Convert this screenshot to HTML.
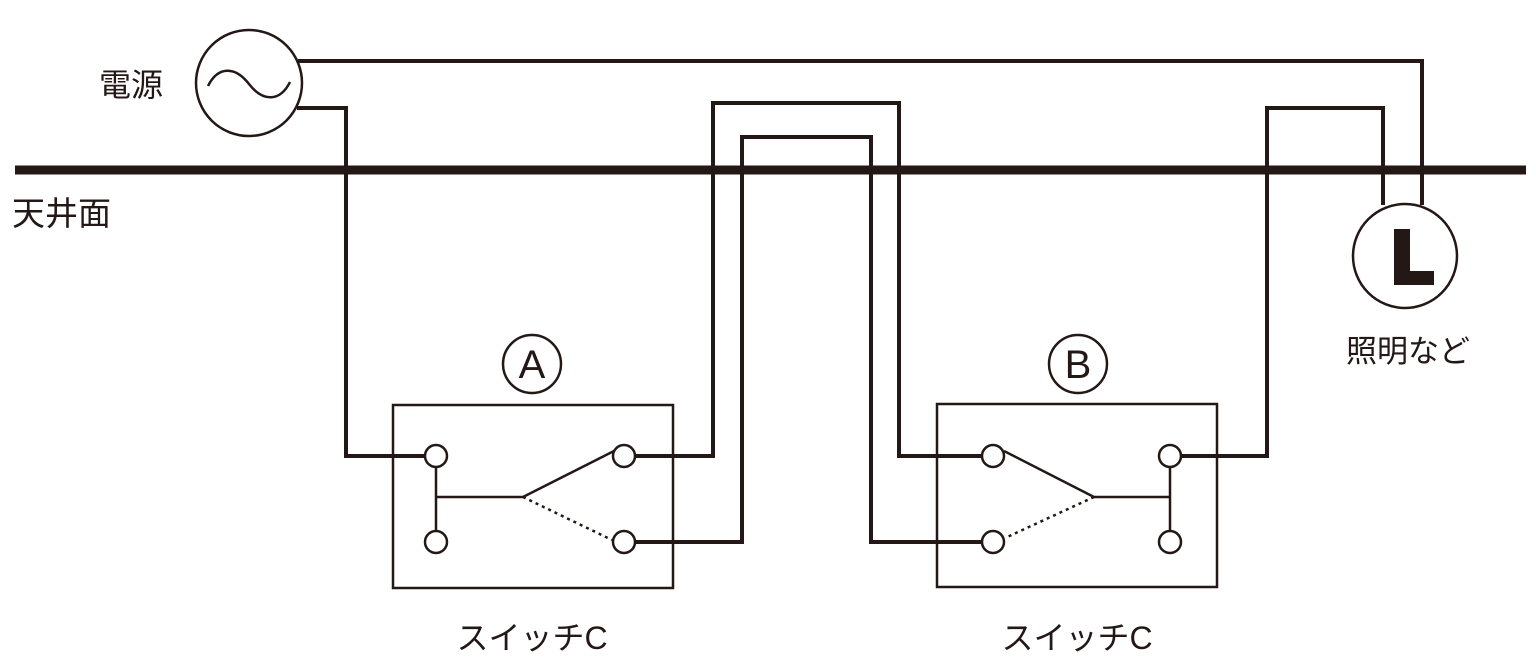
<!DOCTYPE html>
<html><head><meta charset="utf-8"><style>
html,body{margin:0;padding:0;background:#fff;}
svg{display:block}
text{font-family:"Liberation Sans","Noto Sans CJK JP",sans-serif;fill:#231815;}
</style></head><body>
<svg width="1536" height="667" viewBox="0 0 1536 667" xmlns="http://www.w3.org/2000/svg">
<g stroke="#231815" fill="none" stroke-linejoin="miter">
<line x1="15" y1="170" x2="1526" y2="170" stroke-width="9"/>
<g stroke-width="4">
<polyline points="298,61 1422,61 1422,205"/>
<polyline points="297,108 346,108 346,456 425,456"/>
<polyline points="635,456 713,456 713,103 899,103 899,456 982,456"/>
<polyline points="635,542 742,542 742,137 871,137 871,542 982,542"/>
<polyline points="1181,456 1267,456 1267,108 1383,108 1383,205"/>
</g>
<circle cx="249" cy="83" r="53" stroke-width="2.5" fill="#fff"/>
<path d="M208,86 C218,66 235,66 249,84 C263,102 280,102 290,82" stroke-width="2.5"/>
<circle cx="1405" cy="256" r="52" stroke-width="2.5" fill="#fff"/>
<rect x="393" y="405" width="280" height="183" stroke-width="2.5"/>
<rect x="937" y="404" width="280" height="183" stroke-width="2.5"/>
<g stroke-width="2.5">
<line x1="436" y1="456" x2="436" y2="542"/>
<line x1="436" y1="497" x2="523" y2="497"/>
<line x1="523" y1="497" x2="614" y2="451"/>
<line x1="523" y1="497" x2="612" y2="540" stroke-dasharray="3,4"/>
<circle cx="436" cy="456" r="11" fill="#fff"/>
<circle cx="436" cy="542" r="11" fill="#fff"/>
<circle cx="624" cy="456" r="11" fill="#fff"/>
<circle cx="624" cy="542" r="11" fill="#fff"/>
</g>
<g stroke-width="2.5">
<line x1="1170" y1="456" x2="1170" y2="542"/>
<line x1="1094" y1="497" x2="1170" y2="497"/>
<line x1="1094" y1="497" x2="1004" y2="451"/>
<line x1="1094" y1="497" x2="1005" y2="538" stroke-dasharray="3,4"/>
<circle cx="993" cy="456" r="11" fill="#fff"/>
<circle cx="993" cy="542" r="11" fill="#fff"/>
<circle cx="1170" cy="456" r="11" fill="#fff"/>
<circle cx="1170" cy="542" r="11" fill="#fff"/>
</g>
<circle cx="532" cy="364" r="29" stroke-width="2.5"/>
<circle cx="1078" cy="364" r="29" stroke-width="2.5"/>
</g>
<path d="M1394,229 h16 v42 h24 v14 h-40 z" fill="#231815"/>
<text x="532" y="378" font-size="40" text-anchor="middle">A</text>
<text x="1078" y="378" font-size="40" text-anchor="middle">B</text>
<text x="99" y="96" font-size="32">電源</text>
<text x="12" y="225" font-size="33">天井面</text>
<text x="1408" y="362" font-size="31" text-anchor="middle">照明など</text>
<text x="532" y="649" font-size="32" text-anchor="middle">スイッチC</text>
<text x="1077" y="649" font-size="32" text-anchor="middle">スイッチC</text>
</svg>
</body></html>
